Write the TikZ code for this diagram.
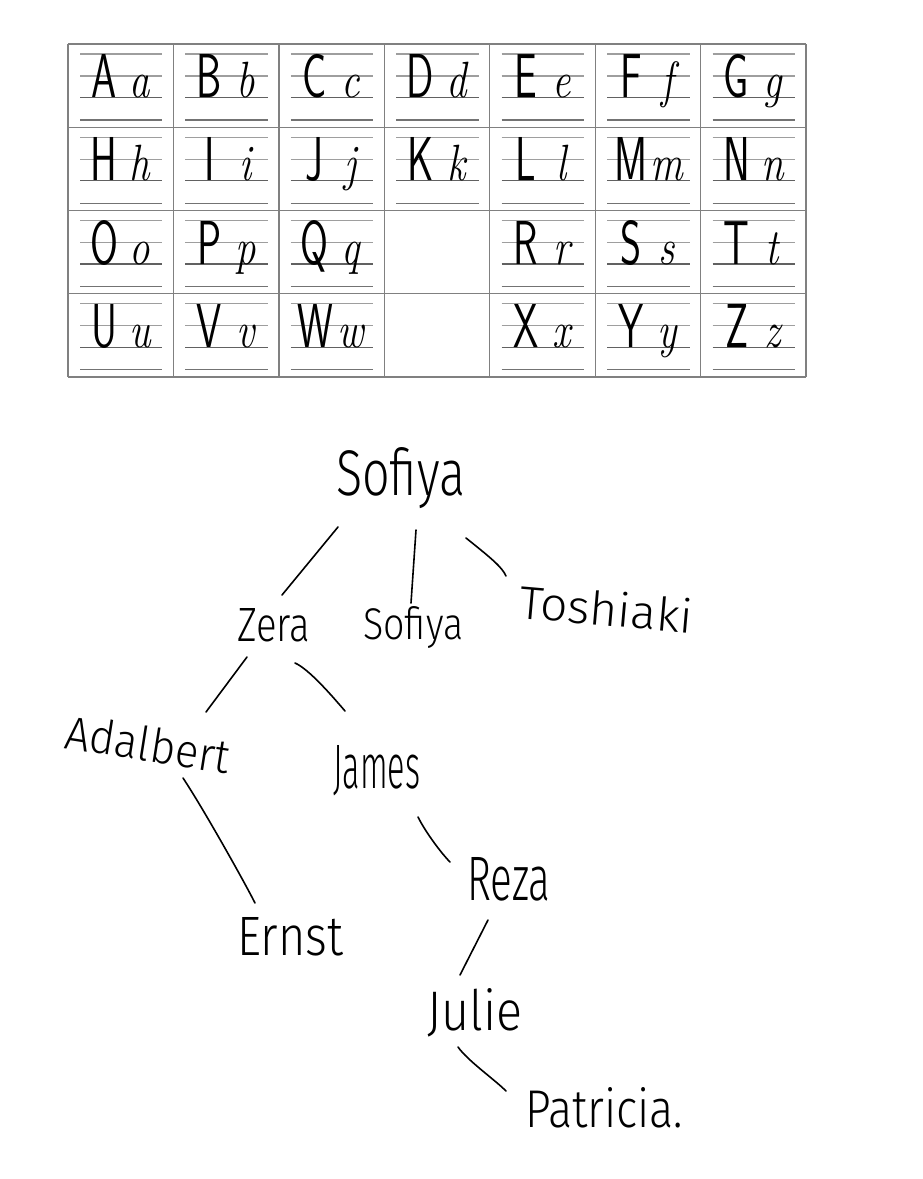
\documentclass[tikz,border=0pt]{standalone}
\usepackage{fontspec}
\usepackage{graphicx}
\usetikzlibrary{calc}
\newfontfamily\hand{Fira Sans}[UprightFont=* Light]
\newcommand\hw[3]{\resizebox{#1pt}{#2pt}{\hand #3}}
\newcommand\capl[1]{\scalebox{0.65}[1]{\fontsize{62}{62}\selectfont\sffamily #1}}
\newcommand\lowl[1]{\scalebox{0.8}[1]{\fontsize{51}{51}\selectfont\itshape #1}}
\begin{document}
\begin{tikzpicture}[x=1pt,y=-1pt,
  gridline/.style={draw=black!50,line width=1.3pt},
  staffa/.style={draw=black!38,line width=1.2pt},
  staffb/.style={draw=black!62,line width=1.2pt},
  staffc/.style={draw=black!55,line width=1.2pt},
  letter/.style={anchor=base,inner sep=0pt},
  hwnode/.style={anchor=base west,inner sep=0pt},
  tedge/.style={draw=black,line width=1.6pt,line cap=round}]
\useasboundingbox (0,0) rectangle (922,1179);
\fill[white] (0,0) rectangle (922,1179);
% staff lines
\foreach \r in {0,1,2,3}{
  \foreach \c in {0,...,6}{
    \pgfmathsetmacro\xl{68+\c*105.43+12}
    \pgfmathsetmacro\xr{68+(\c+1)*105.43-11}
    \pgfmathsetmacro\yt{44+\r*83.25}
    \pgfmathtruncatemacro\isempty{and(\r>1,\c==3)}
    \ifnum\isempty=0
      \draw[staffa] (\xl,\yt+10) -- (\xr,\yt+10);
      \draw[staffa] (\xl,\yt+32) -- (\xr,\yt+32);
      \draw[staffb] (\xl,\yt+53.5) -- (\xr,\yt+53.5);
      \draw[staffc] (\xl,\yt+76) -- (\xr,\yt+76);
    \fi
  }
}
% grid
\foreach \c in {0,...,7}{
  \draw[gridline] ({68+\c*105.43},44) -- ({68+\c*105.43},377);
}
\foreach \r in {0,...,4}{
  \draw[gridline] (68,{44+\r*83.25}) -- (806,{44+\r*83.25});
}
% letters
\foreach \U/\L/\c/\r in {A/a/0/0,B/b/1/0,C/c/2/0,D/d/3/0,E/e/4/0,F/f/5/0,G/g/6/0,
  H/h/0/1,I/i/1/1,J/j/2/1,K/k/3/1,L/l/4/1,M/m/5/1,N/n/6/1,
  O/o/0/2,P/p/1/2,Q/q/2/2,R/r/4/2,S/s/5/2,T/t/6/2,
  U/u/0/3,V/v/1/3,W/w/2/3,X/x/4/3,Y/y/5/3,Z/z/6/3}{
  \node[letter] (cap-\U) at ({68+\c*105.43+36},{44+\r*83.25+53.5}) {\capl{\U}};
  \node[letter] (low-\L) at ({68+\c*105.43+72},{44+\r*83.25+53.5}) {\lowl{\L}};
}
% tree
\node[hwnode] (sofiya) at (336,495) {\hw{129}{48}{Sofiya}};
\node[hwnode] (zera) at (237,641) {\hw{73}{33}{Zera}};
\node[hwnode] (sofiyb) at (363,639) {\hw{100}{33}{Sofiya}};
\node[hwnode,rotate=-5] (toshiaki) at (518,618) {\hw{174}{35}{Toshiaki}};
\node[hwnode,rotate=-9] (adalbert) at (63,748) {\hw{166}{35}{Adalbert}};
\node[hwnode] (james) at (333,788) {\hw{87}{43}{James}};
\node[hwnode] (ernst) at (237,955) {\hw{106}{38}{Ernst}};
\node[hwnode] (reza) at (467,900) {\hw{83}{43}{Reza}};
\node[hwnode] (julie) at (427,1030) {\hw{95}{42}{Julie}};
\node[hwnode] (patricia) at (525,1127) {\hw{158}{40}{Patricia.}};
\draw[tedge] ($(sofiya.base west)+(2,32)$) -- ($(zera.base west)+(45,-46)$);
\draw[tedge] ($(sofiya.base west)+(80,35)$) -- ($(sofiyb.base west)+(48,-36)$);
\draw[tedge] ($(sofiya.base west)+(130,43)$) .. controls +(25,20) and +(-4,-9) .. ($(toshiaki.base west)+(-12,-42)$);
\draw[tedge] ($(zera.base west)+(10,16)$) -- ($(adalbert.base west)+(143,-36)$);
\draw[tedge] ($(zera.base west)+(58,22)$) .. controls +(14,6) and +(-12,-14) .. ($(james.base west)+(12,-77)$);
\draw[tedge] ($(adalbert.base west)+(120,30)$) .. controls +(20,30) and +(-10,-20) .. ($(ernst.base west)+(18,-52)$);
\draw[tedge] ($(james.base west)+(85,29)$) .. controls +(8,16) and +(-8,-8) .. ($(reza.base west)+(-17,-38)$);
\draw[tedge] ($(reza.base west)+(21,20)$) -- ($(julie.base west)+(33,-55)$);
\draw[tedge] ($(julie.base west)+(31,17)$) .. controls +(10,14) and +(-12,-12) .. ($(patricia.base west)+(-19,-36)$);
\end{tikzpicture}
\end{document}
